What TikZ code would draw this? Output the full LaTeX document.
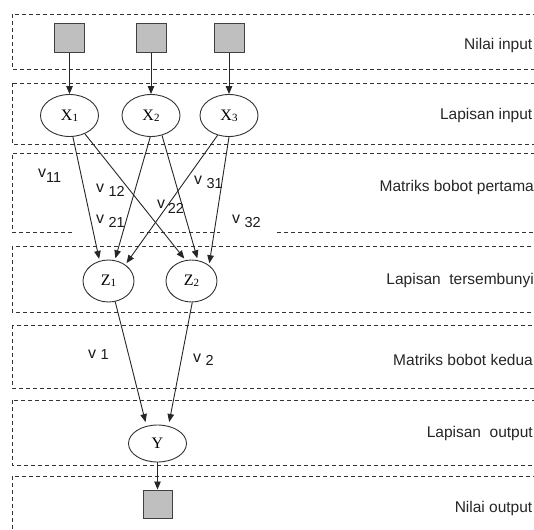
\documentclass[tikz,border=0pt]{standalone}
\usepackage{fontspec}
\setmainfont{Liberation Serif}
\newfontfamily\lsans{Liberation Sans}
\usetikzlibrary{arrows.meta,shapes.geometric}
\newcommand{\nsub}[1]{{\fontsize{11}{11}\selectfont\raisebox{-1pt}{#1}}}
\newcommand{\wdig}[1]{{\fontsize{14.5}{14.5}\selectfont #1}}
\begin{document}
\begin{tikzpicture}[x=1pt,y=-1pt,
  layer/.style={draw=black!80, line width=0.9pt, dash pattern=on 4pt off 3pt},
  inbox/.style={draw=black!75, fill=black!25, line width=1pt, minimum width=30pt, minimum height=29pt, inner sep=0pt},
  neuron/.style={ellipse, draw=black!80, line width=0.9pt, inner sep=0pt, font=\fontsize{16}{16}\selectfont},
  conn/.style={line width=0.9pt, draw=black!85, -{Triangle[length=8pt,width=6.5pt]}},
  lname/.style={anchor=base east, font=\lsans\fontsize{15.5}{16}\selectfont, text=black!85, inner sep=0pt},
  wlab/.style={anchor=base west, font=\lsans\fontsize{16}{16}\selectfont, text=black!90, inner sep=0pt}]
\useasboundingbox (0,0) rectangle (534,529);
\clip (0,0) rectangle (534,529);

% layer boxes
\draw[layer] (12,14) rectangle (545,69);
\draw[layer] (12,83) rectangle (545,144);
\draw[layer] (72,232) -- (12,232) -- (12,153) -- (545,153);
\draw[layer] (140,232) -- (220,232);
\draw[layer] (277,232) -- (545,232);
\draw[layer] (12,246) rectangle (545,312);
\draw[layer] (12,325) rectangle (545,388);
\draw[layer] (12,400) rectangle (545,465);
\draw[layer] (12,476) rectangle (545,545);

% layer names
\node[lname] (n1) at (532.5,50) {Nilai input};
\node[lname] (n2) at (532.5,120) {Lapisan input};
\node[lname] (n3) at (534,191) {Matriks bobot pertama};
\node[lname] (n4) at (534,284) {Lapisan\ \ tersembunyi};
\node[lname] (n5) at (533,365) {Matriks bobot kedua};
\node[lname] (n6) at (533,437) {Lapisan\ \ output};
\node[lname] (n7) at (532.5,512) {Nilai output};

% nodes
\node[inbox] (in1) at (69.5,38.5) {};
\node[inbox] (in2) at (151,38.5) {};
\node[inbox] (in3) at (229,38.5) {};
\node[neuron, minimum width=58pt, minimum height=42pt] (X1) at (69.5,115.5) {X\nsub{1}};
\node[neuron, minimum width=58pt, minimum height=42pt] (X2) at (151,115.5) {X\nsub{2}};
\node[neuron, minimum width=58pt, minimum height=42pt] (X3) at (229,115.5) {X\nsub{3}};
\node[neuron, minimum width=51pt, minimum height=42pt] (Z1) at (108.5,281) {Z\nsub{1}};
\node[neuron, minimum width=51pt, minimum height=42pt] (Z2) at (191.5,281) {Z\nsub{2}};
\node[neuron, minimum width=58pt, minimum height=37pt] (Y) at (157.5,443.5) {Y};
\node[inbox, minimum width=29pt, minimum height=28pt] (out) at (157.5,504) {};

% connectors
\draw[conn] (in1) -- (X1);
\draw[conn] (in2) -- (X2);
\draw[conn] (in3) -- (X3);
\draw[conn, shorten >=2pt] (X1.-81) -- (Z1.114);
\draw[conn, shorten >=2pt] (X1.-50) -- (Z2.106);
\draw[conn, shorten >=2pt] (X2.-92) -- (Z1.73);
\draw[conn, shorten >=2pt] (X2.-61) -- (Z2.73);
\draw[conn, shorten >=2pt] (X3.-120) -- (Z1.44);
\draw[conn, shorten >=2pt] (X3.-90) -- (Z2.42);
\draw[conn, shorten >=4pt] (Z1.-72) -- (Y.122);
\draw[conn, shorten >=4pt] (Z2.-88) -- (Y.58);
\draw[conn] (Y) -- (out);

% weight labels
\node[wlab] (v11) at (38,178) {v\raisebox{-5pt}{\wdig{11}}};
\node[wlab] (v12) at (96,192) {v \raisebox{-4pt}{\wdig{12}}};
\node[wlab] (v21) at (96,223) {v \raisebox{-4pt}{\wdig{21}}};
\node[wlab] (v22) at (157,208) {v\,\raisebox{-5pt}{\wdig{22}}};
\node[wlab] (v31) at (194,184) {v \raisebox{-5pt}{\wdig{31}}};
\node[wlab] (v32) at (232,223) {v \raisebox{-4pt}{\wdig{32}}};
\node[wlab] (v1) at (88,358) {v \raisebox{-1pt}{\wdig{1}}};
\node[wlab] (v2) at (193,362) {v \raisebox{-3pt}{\wdig{2}}};
\end{tikzpicture}
\end{document}
